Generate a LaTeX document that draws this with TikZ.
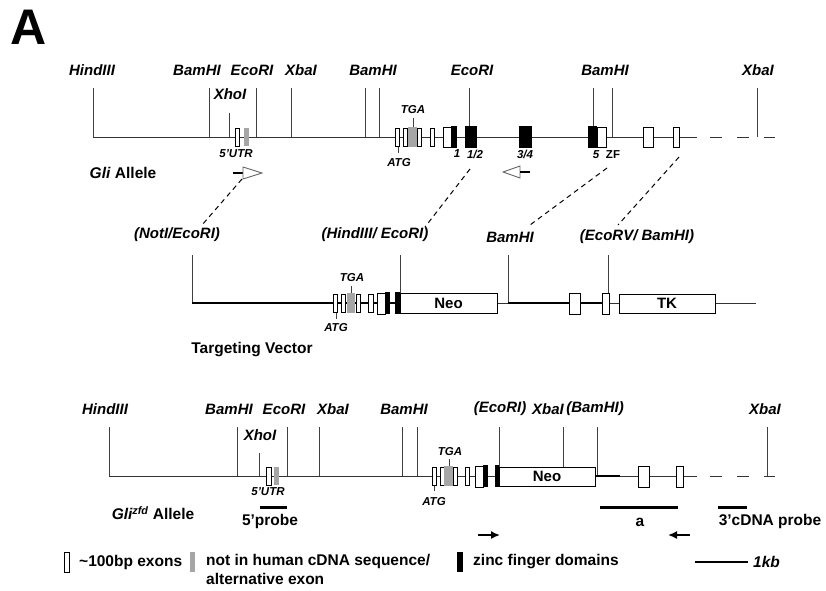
\documentclass[tikz,border=0pt]{standalone}
\usepackage{fontspec}
\setmainfont{Liberation Sans}
\usetikzlibrary{arrows.meta}

\begin{document}
\begin{tikzpicture}[
    x=1pt, y=-1pt,
    site/.style={font=\fontsize{15}{17}\selectfont\bfseries\itshape, inner sep=0pt},
    tag/.style={font=\fontsize{11.5}{13}\selectfont\bfseries\itshape, inner sep=0pt},
    lbl/.style={font=\fontsize{15.5}{19}\selectfont\bfseries, inner sep=0pt},
    dna/.style={line width=1pt, draw=black!80},
    arm/.style={line width=2.2pt},
    cut/.style={line width=0.9pt, draw=black!75},
    ex/.style={draw, fill=white, line width=0.9pt},
    gex/.style={fill=black!35},
    zf/.style={fill=black},
    cassette/.style={draw, fill=white, line width=0.9pt, inner sep=0pt, minimum height=20pt, font=\fontsize{15}{17}\selectfont\bfseries},
    link/.style={line width=1pt, dash pattern=on 5pt off 4pt},
    probe/.style={line width=3pt},
    primer/.style={line width=1.6pt, -{Latex[length=9pt,width=8pt]}}
  ]
    \useasboundingbox (0,0) rectangle (826,590);
    \node[font=\fontsize{50}{50}\selectfont\bfseries] (fig) at (29,27) {A};

    % Gli allele
    \foreach \x in {93,209,256,291,365,379,469,593,612,757}
      \draw[cut] (\x,88) -- (\x,137);
    \draw[cut] (229,113) -- (229,137);
    \draw[cut] (398,147) -- (398,153);
    \draw[cut] (413,118) -- (413,127);
    \draw[dna] (93,137) -- (697,137);
    \draw[dna, dash pattern=on 12pt off 15pt] (710,137) -- (775,137);
    \foreach \l/\r in {235/239,395/399,403/407,417/421,430/434}
      \draw[ex] (\l,128) rectangle (\r,146);
    \foreach \l/\r in {443/451,597/606,643/653,673/679}
      \draw[ex] (\l,127) rectangle (\r,147);
    \fill[gex] (244,128) rectangle (249,146);
    \fill[gex] (408,127) rectangle (417,147);
    \foreach \l/\r in {451/457,465/477,519/532,588/597}
      \fill[zf] (\l,126) rectangle (\r,148);

    \node[site] (h1) at (92,70) {HindIII};
    \node[site] (b1) at (197,70) {BamHI};
    \node[site] (e1) at (252,70) {EcoRI};
    \node[site] (x1) at (301,70) {XbaI};
    \node[site] (b2) at (373,70) {BamHI};
    \node[site] (e2) at (472,70) {EcoRI};
    \node[site] (b3) at (605,70) {BamHI};
    \node[site] (x2) at (758,70) {XbaI};
    \node[site] (xh1) at (230,94) {XhoI};
    \node[tag] (utr1) at (236,154) {5'UTR};
    \node[tag] (atg1) at (399,163) {ATG};
    \node[tag] (tga1) at (413,110) {TGA};
    \node[tag] (z1) at (457,154) {1};
    \node[tag] (z12) at (475,154) {1/2};
    \node[tag] (z34) at (525,154) {3/4};
    \node[tag] (z5) at (596,155) {5};
    \node[tag, font=\fontsize{11.5}{13}\selectfont\bfseries] (zf1) at (613,155) {ZF};
    \node[lbl] (gli) at (123,173) {\textit{Gli} Allele};

    \draw[line width=1.3pt] (233,173) -- (243,173);
    \draw[ex, draw=black!60] (243,167) -- (262,173) -- (243,179) -- cycle;
    \draw[ex, draw=black!60] (520,166) -- (503,172) -- (520,178) -- cycle;
    \draw[line width=1.3pt] (520,172) -- (530,172);

    % targeting vector
    \foreach \x in {192,508,608}
      \draw[cut] (\x,255) -- (\x,303);
    \draw[cut] (400,255) -- (400,293);
    \draw[cut] (336,311) -- (336,319);
    \draw[cut] (351,286) -- (351,293);
    \draw[arm] (192,303) -- (400,303);
    \draw[dna] (497,303) -- (508,303);
    \draw[arm] (508,303) -- (608,303);
    \draw[dna] (608,303) -- (619,303);
    \draw[dna] (715,303) -- (756,303);
    \foreach \l/\r in {333/337,341/345,356/360,368/373}
      \draw[ex] (\l,294) rectangle (\r,312);
    \foreach \l/\r in {377/385,569/580,602/609}
      \draw[ex] (\l,293) rectangle (\r,314);
    \fill[gex] (347,293) rectangle (355,313);
    \foreach \l/\r in {385/390,395/400}
      \fill[zf] (\l,292) rectangle (\r,314);
    \node[cassette, minimum width=97pt] (neo1) at (448.5,303) {Neo};
    \node[cassette, minimum width=96pt, minimum height=19pt] (tk) at (667,303.5) {TK};

    \node[site] (ne) at (177,235) {(NotI/EcoRI)};
    \node[site] (he) at (375,235) {(HindIII/ EcoRI)};
    \node[site] (b4) at (510,237) {BamHI};
    \node[site] (eb) at (637,237) {(EcoRV/ BamHI)};
    \node[tag] (atg2) at (336,328) {ATG};
    \node[tag] (tga2) at (352,278) {TGA};
    \node[lbl] (tv) at (252,350) {Targeting Vector};

    \coordinate (s1) at (242,179);
    \coordinate (s2) at (470,169);
    \coordinate (s3) at (607,168);
    \coordinate (s4) at (679,157);
    \coordinate (t1) at (202,225);
    \coordinate (t2) at (425,227);
    \coordinate (t3) at (530,225);
    \coordinate (t4) at (618,225);
    \draw[link] (s1) -- (t1);
    \draw[link] (s2) -- (t2);
    \draw[link] (s3) -- (t3);
    \draw[link] (s4) -- (t4);

    % Gli zfd allele
    \foreach \x in {109,237,287,319,402,417,597,767}
      \draw[cut] (\x,427) -- (\x,476);
    \foreach \x in {499,563}
      \draw[cut] (\x,427) -- (\x,467);
    \draw[cut] (259,453) -- (259,476);
    \draw[cut] (434,485) -- (434,491);
    \draw[cut] (449,459) -- (449,466);
    \draw[dna] (109,476) -- (697,476);
    \draw[line width=1.8pt] (595,476) -- (620,476);
    \draw[dna, dash pattern=on 12pt off 15pt] (710,476) -- (775,476);
    \foreach \l/\r in {266/271,432/436,440/444,453/457,465/469}
      \draw[ex] (\l,467) rectangle (\r,485);
    \foreach \l/\r in {475/483,638/649,676/683}
      \draw[ex] (\l,466) rectangle (\r,487);
    \fill[gex] (274,467) rectangle (279,485);
    \fill[gex] (444,466) rectangle (453,486);
    \foreach \l/\r in {483/488,495/499}
      \fill[zf] (\l,465) rectangle (\r,487);
    \node[cassette, minimum width=96pt, minimum height=19pt] (neo2) at (547,476.5) {Neo};

    \node[site] (h2) at (105,409) {HindIII};
    \node[site] (b5) at (229,409) {BamHI};
    \node[site] (e3) at (284,409) {EcoRI};
    \node[site] (x3) at (333,409) {XbaI};
    \node[site] (b6) at (404,409) {BamHI};
    \node[site] (e4) at (500,409) {(EcoRI)};
    \node[site] (x4) at (548,409) {XbaI};
    \node[site] (b7) at (595,409) {(BamHI)};
    \node[site] (x5) at (765,409) {XbaI};
    \node[site] (xh2) at (260,435) {XhoI};
    \node[tag] (utr2) at (268,492) {5'UTR};
    \node[tag] (atg3) at (434,502) {ATG};
    \node[tag] (tga3) at (450,452) {TGA};
    \node[lbl] (zfd) at (153,513) {\textit{Gli\textsuperscript{zfd}} Allele};

    \draw[probe] (260,507) -- (287,507);
    \draw[probe] (600,507) -- (678,507);
    \draw[probe] (718,507) -- (747,507);
    \node[lbl] (p5) at (270,521) {5'probe};
    \node[lbl] (pa) at (640,522) {a};
    \node[lbl] (p3) at (770,521) {3'cDNA probe};
    \draw[primer] (478,535) -- (500,535);
    \draw[primer] (690,535) -- (668,535);

    % key
    \draw[ex] (64,552) rectangle (69,572);
    \node[lbl, anchor=west] (k1) at (79,562) {\textasciitilde100bp exons};
    \fill[gex] (190,552) rectangle (195,572);
    \node[lbl, anchor=north west, align=left] (k2) at (206,554) {not in human cDNA sequence/\\alternative exon};
    \fill[zf] (457,552) rectangle (463,572);
    \node[lbl, anchor=west] (k3) at (473,562) {zinc finger domains};
    \draw[line width=1.5pt] (695,562) -- (748,562);
    \node[lbl, anchor=west, font=\fontsize{15.5}{19}\selectfont\bfseries\itshape] (k4) at (753,562) {1kb};
  \end{tikzpicture}
\end{document}
